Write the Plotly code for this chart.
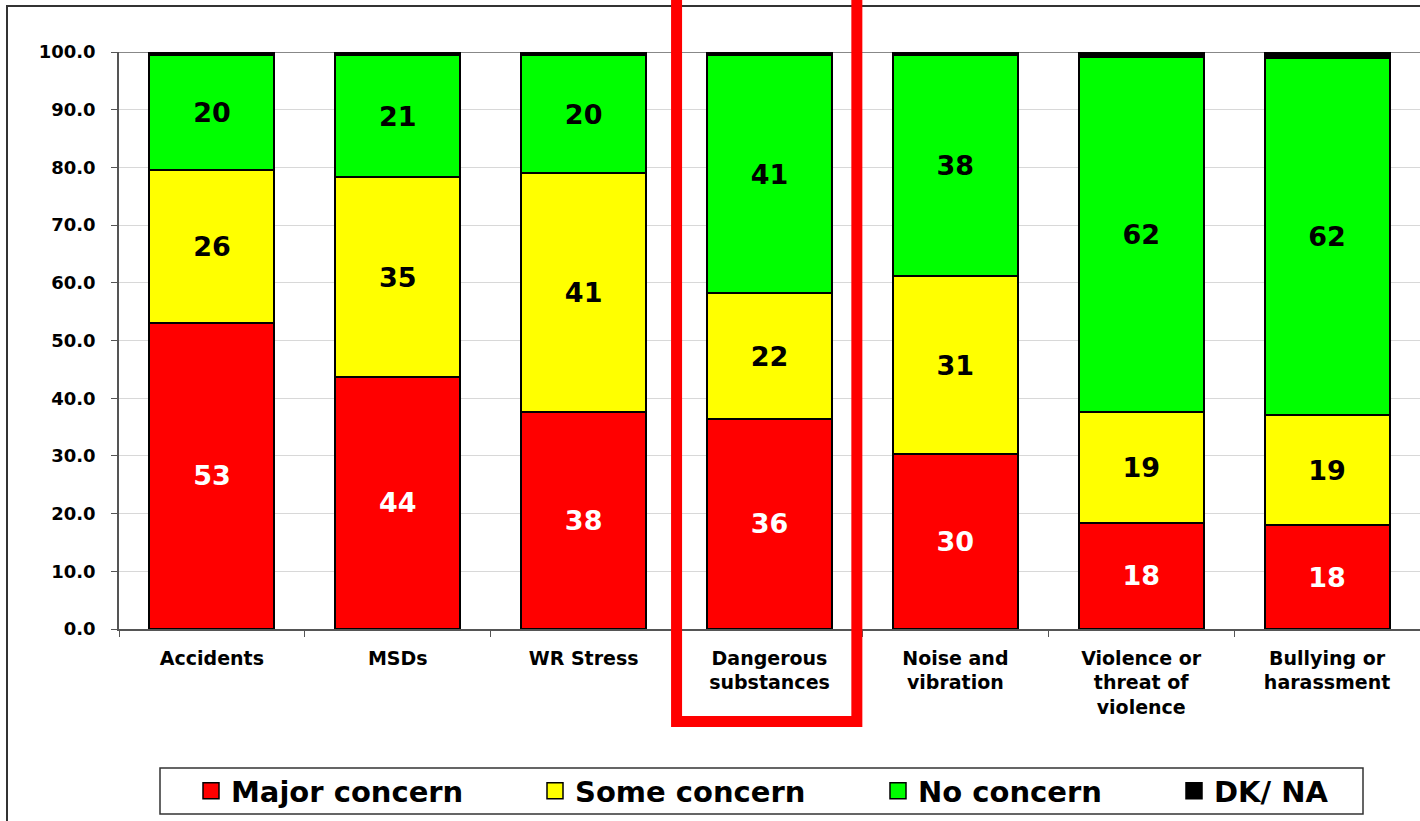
import plotly.graph_objects as go

categories = ["Accidents", "MSDs", "WR Stress", "Dangerous<br>substances",
              "Noise and<br>vibration", "Violence or<br>threat of<br>violence",
              "Bullying or<br>harassment"]
major = [53.1, 43.7, 37.6, 36.4, 30.3, 18.4, 18.0]
some = [26.4, 34.6, 41.4, 21.8, 30.9, 19.2, 19.1]
no_concern = [20.0, 21.2, 20.4, 41.2, 38.2, 61.6, 61.9]
dk_na = [0.5, 0.5, 0.6, 0.6, 0.6, 0.8, 1.0]

series_names = ["Major concern", "Some concern", "No concern", "DK/ NA"]
series_values = [major, some, no_concern, dk_na]
series_colors = ["#FF0000", "#FFFF00", "#00FF00", "#000000"]
text_colors = ["white", "black", "black", "black"]
legend_widths = [299, 298, 251, 130]

FONT = "DejaVu Sans"

fig = go.Figure()
for i, (name, vals, col) in enumerate(zip(series_names, series_values, series_colors)):
    show_text = i < 3
    fig.add_trace(go.Bar(
        x=categories, y=vals, name=name, showlegend=False,
        marker=dict(color=col, line=dict(color="black", width=2)),
        texttemplate="%{y:.0f}" if show_text else None,
        textposition="inside" if show_text else "none",
        insidetextanchor="middle",
        textangle=0,
        constraintext="none",
        textfont=dict(family=FONT, size=27, color=text_colors[i], weight="bold"),
        hoverinfo="skip",
    ))
    # legend entry
    fig.add_trace(go.Scatter(
        x=[None], y=[None], mode="markers", name=name,
        marker=dict(symbol="square", size=16, color=col,
                    line=dict(color="black", width=1.5)),
        legendwidth=legend_widths[i], hoverinfo="skip",
    ))

L, R, T, B = 119, 0, 52, 192
W, H = 1420, 821
pw = W - L - R
ph = H - T - B

def px_x(p):
    return (p - L) / pw

def px_y(p):
    return (H - B - p) / ph

shapes = [
    # outer frame
    dict(type="rect", xref="paper", yref="paper", x0=px_x(7), x1=1.05,
         y0=px_y(900), y1=px_y(6), line=dict(color="#333333", width=2),
         layer="below"),
    # top line at 100
    dict(type="line", xref="paper", yref="y", x0=0, x1=1, y0=100, y1=100,
         line=dict(color="#888888", width=2), layer="below"),
    # legend box
    dict(type="rect", xref="paper", yref="paper", x0=px_x(160), x1=px_x(1363),
         y0=px_y(814), y1=px_y(768), line=dict(color="#333333", width=1.5)),
    # highlight box
    dict(type="rect", xref="x", yref="paper", x0=2.5, x1=3.47,
         y0=px_y(721.5), y1=px_y(-20), line=dict(color="#FF0000", width=11)),
]

fig.update_layout(
    width=W, height=H,
    margin=dict(l=L, r=R, t=T, b=B),
    barmode="stack", bargap=0.327,
    plot_bgcolor="white", paper_bgcolor="white",
    font=dict(family=FONT, color="black"),
    showlegend=True,
    legend=dict(orientation="h", x=px_x(191), xanchor="left",
                y=px_y(791), yanchor="middle", traceorder="normal",
                font=dict(family=FONT, size=29, weight="bold", color="black"),
                bgcolor="rgba(0,0,0,0)", borderwidth=0, itemwidth=30),
    shapes=shapes,
    xaxis=dict(showline=True, linecolor="#555555", linewidth=1.5,
               ticks="outside", tickson="boundaries", ticklen=6,
               tickcolor="#555555",
               tickfont=dict(family=FONT, size=19, weight="bold"),
               showgrid=False, ticklabelstandoff=11),
    yaxis=dict(range=[0, 100], dtick=10, tickformat=".1f",
               showline=True, linecolor="#555555", linewidth=1.5,
               ticks="outside", ticklen=6, tickcolor="#555555",
               tickfont=dict(family=FONT, size=18, weight="bold"),
               gridcolor="#D8D8D8", gridwidth=1, zeroline=False,
               ticklabelstandoff=12),
)

fig.write_html("out.html")
